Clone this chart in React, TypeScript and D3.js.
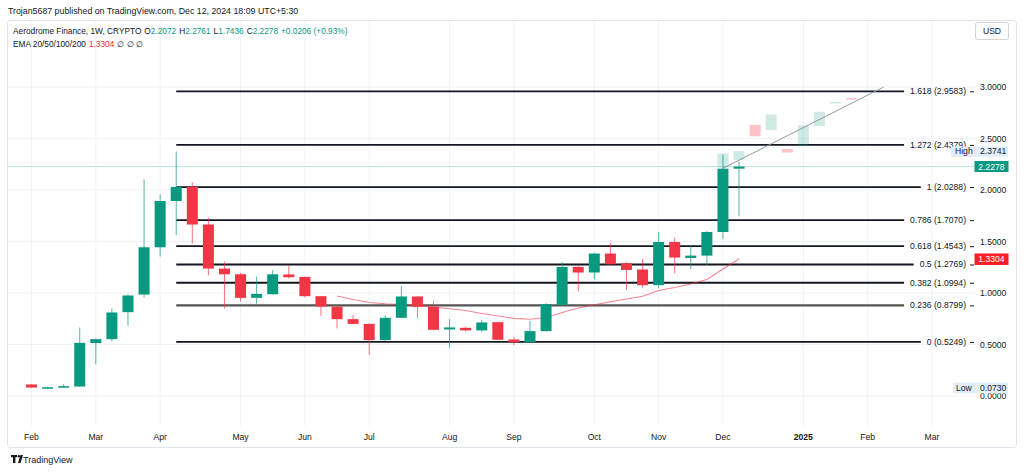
import React from 'react';
import * as d3 from 'd3';

// ---- Data (weekly candles, index 0 = week of Feb 5 2024) ----
const opens = [0.112, 0.080, 0.082, 0.092, 0.514, 0.552, 0.814, 0.985, 1.444, 1.893, 2.030, 1.665, 1.237, 1.182, 0.953, 0.988, 1.180, 1.156, 0.969, 0.868, 0.746, 0.700, 0.543, 0.759, 0.966, 0.866, 0.646, 0.662, 0.637, 0.717, 0.549, 0.523, 0.630, 0.885, 1.253, 1.199, 1.383, 1.289, 1.228, 1.076, 1.495, 1.340, 1.363, 1.592, 2.2072];
const highs = [0.118, 0.090, 0.115, 0.665, 0.560, 0.850, 0.985, 2.103, 1.957, 2.374, 2.075, 1.730, 1.305, 1.195, 1.160, 1.224, 1.266, 1.160, 0.972, 0.870, 0.785, 0.705, 0.785, 1.069, 0.970, 0.924, 0.746, 0.672, 0.740, 0.720, 0.575, 0.730, 0.900, 1.301, 1.266, 1.390, 1.483, 1.300, 1.328, 1.592, 1.537, 1.456, 1.600, 2.340, 2.2761];
const lows = [0.078, 0.073, 0.078, 0.088, 0.305, 0.530, 0.681, 0.956, 1.354, 1.563, 1.480, 1.172, 0.850, 0.918, 0.895, 0.985, 1.140, 0.959, 0.778, 0.656, 0.695, 0.400, 0.535, 0.755, 0.756, 0.638, 0.465, 0.625, 0.620, 0.543, 0.494, 0.518, 0.625, 0.875, 1.014, 1.134, 1.275, 1.027, 1.053, 1.047, 1.189, 1.231, 1.272, 1.521, 1.7436];
const closes = [0.082, 0.085, 0.095, 0.516, 0.552, 0.811, 0.976, 1.444, 1.893, 2.030, 1.665, 1.237, 1.182, 0.953, 0.991, 1.182, 1.153, 0.969, 0.869, 0.746, 0.700, 0.543, 0.759, 0.966, 0.866, 0.643, 0.666, 0.637, 0.714, 0.546, 0.523, 0.630, 0.891, 1.253, 1.199, 1.383, 1.279, 1.224, 1.076, 1.495, 1.344, 1.363, 1.592, 2.207, 2.2278];

const emaStart = 19;
const ema20 = [0.971, 0.937, 0.908, 0.896, 0.888, 0.881, 0.864, 0.847, 0.830, 0.801, 0.777, 0.754, 0.745, 0.762, 0.811, 0.854, 0.885, 0.915, 0.942, 0.969, 1.024, 1.053, 1.087, 1.131, 1.233, 1.3304];

const ghostIdx = [43, 44, 45, 46, 47, 48, 49, 50, 51];
const ghostOpen = [2.216, 2.290, 2.633, 2.581, 2.398, 2.425, 2.619, 2.845, 2.893];
const ghostClose = [2.355, 2.377, 2.522, 2.733, 2.364, 2.629, 2.759, 2.855, 2.885];

const trendIdx = [43, 53];
const trendVal = [2.211, 3.0];

const fibRatios = ['1.618', '1.272', '1', '0.786', '0.618', '0.5', '0.382', '0.236', '0'];
const fibPrices = [2.9583, 2.4379, 2.0288, 1.707, 1.4543, 1.2769, 1.0994, 0.8799, 0.5249];
const fibStartIdx = 9;

const priceTicks = [0, 0.5, 1, 1.5, 2, 2.5, 3];
const monthIdx = [0, 4, 8, 13, 17, 21, 26, 30, 35, 39, 43, 48, 52, 56];
const monthLabels = ['Feb', 'Mar', 'Apr', 'May', 'Jun', 'Jul', 'Aug', 'Sep', 'Oct', 'Nov', 'Dec', '2025', 'Feb', 'Mar'];

const lastPrice = 2.2278;
const rangeHigh = 2.3741;
const rangeLow = 0.073;
const emaLast = 1.3304;

const GREEN = '#089981';
const RED = '#f23645';
const TEXT = '#131722';
const FONT = '"Liberation Sans", Arial, sans-serif';
const FS = 8.6;

function measure(s: string, font: string) {
  const c = document.createElement('canvas').getContext('2d');
  if (!c) return s.length * 4;
  c.font = font;
  return c.measureText(s).width;
}

export default function App() {
  const x = d3.scaleLinear().domain([0, 56]).range([31.5, 932]);
  const y = d3.scaleLinear().domain([0, 3]).range([396, 87]);
  const paneL = 8, paneR = 975, paneT = 21, paneB = 426;
  const bw = 11;

  const emaLine = d3.line<number>().x((_, i) => x(emaStart + i)).y(d => y(d));
  const trendLine = d3.line<number>().x((_, i) => x(trendIdx[i])).y(d => y(d));

  const fibFont = `${FS}px ${FONT}`;
  const n = opens.length - 1;

  return (
    <svg width={1024} height={472} style={{ position: 'absolute', left: 0, top: 0, background: '#fff' }} fontFamily={FONT}>
      <rect x={0} y={0} width={1024} height={472} fill="#fff" />
      <text x={8} y={14} fontSize={8.8} fill={TEXT}>Trojan5687 published on TradingView.com, Dec 12, 2024 18:09 UTC+5:30</text>
      <rect x={7.5} y={20.5} width={1009} height={427} rx={3} fill="#fff" stroke="#e0e3eb" />

      {/* grid */}
      {priceTicks.map(t => (
        <line key={'h' + t} x1={paneL} x2={paneR} y1={y(t)} y2={y(t)} stroke="#f0f3fa" />
      ))}
      {monthIdx.map((m, i) => (
        <line key={'v' + i} x1={x(m)} x2={x(m)} y1={paneT} y2={paneB} stroke="#f0f3fa" />
      ))}

      {/* current price line */}
      <line x1={paneL} x2={paneR} y1={y(lastPrice)} y2={y(lastPrice)} stroke={GREEN} strokeOpacity={0.25} />

      {/* fib levels */}
      {fibPrices.map((p, i) => {
        const label = `${fibRatios[i]} (${p.toFixed(4)})`;
        const w = measure(label, fibFont);
        const tx = 966;
        return (
          <g key={'f' + i}>
            <line x1={x(fibStartIdx)} x2={tx - w - 6} y1={y(p)} y2={y(p)} stroke={fibRatios[i] === '0.236' ? '#555' : '#131722'} strokeWidth={fibRatios[i] === '0.236' ? 2.2 : 1.8} />
            <text x={tx} y={y(p) + 3} fontSize={FS} textAnchor="end" fill={TEXT}>{label}</text>
            <line x1={970} x2={974} y1={y(p) + 0.5} y2={y(p) + 0.5} stroke={TEXT} strokeWidth={1} />
          </g>
        );
      })}

      {/* ghost projection */}
      {ghostIdx.map((gi, i) => {
        const up = ghostClose[i] >= ghostOpen[i];
        const top = y(Math.max(ghostOpen[i], ghostClose[i]));
        const bot = y(Math.min(ghostOpen[i], ghostClose[i]));
        return (
          <rect key={'g' + i} x={x(gi) - bw / 2} y={top} width={bw} height={Math.max(1.5, bot - top)} fill={up ? GREEN : RED} fillOpacity={up ? 0.2 : 0.3} />
        );
      })}
      <path d={trendLine(trendVal) || ''} fill="none" stroke="#9598a1" strokeWidth={1} />

      {/* EMA */}
      <path d={emaLine(ema20) || ''} fill="none" stroke={RED} strokeOpacity={0.6} strokeWidth={1.1} />

      {/* candles */}
      {opens.map((o, i) => {
        const c = closes[i];
        const up = c >= o;
        const col = up ? GREEN : RED;
        const cx = x(i);
        const top = y(Math.max(o, c));
        const bot = y(Math.min(o, c));
        return (
          <g key={'c' + i}>
            <line x1={cx} x2={cx} y1={y(highs[i])} y2={y(lows[i])} stroke={col} strokeOpacity={0.7} strokeWidth={1} />
            <rect x={cx - bw / 2} y={top} width={bw} height={Math.max(1.5, bot - top)} fill={col} />
          </g>
        );
      })}

      {/* header */}
      <text x={13} y={34} fontSize={8.3} fill={TEXT}>
        Aerodrome Finance, 1W, CRYPTO
        <tspan dx={3}>O</tspan><tspan fill={GREEN}>{opens[n].toFixed(4)}</tspan>
        <tspan dx={3}>H</tspan><tspan fill={GREEN}>{highs[n].toFixed(4)}</tspan>
        <tspan dx={3}>L</tspan><tspan fill={GREEN}>{lows[n].toFixed(4)}</tspan>
        <tspan dx={3}>C</tspan><tspan fill={GREEN}>{lastPrice.toFixed(4)}</tspan>
        <tspan dx={3} fill={GREEN}>+0.0206 (+0.93%)</tspan>
      </text>
      <text x={13} y={46.5} fontSize={8.3} fill={TEXT}>
        EMA 20/50/100/200
        <tspan dx={3} fill="#f7282f">{emaLast.toFixed(4)}</tspan>
        <tspan dx={3}>∅  ∅  ∅</tspan>
      </text>

      {/* price axis */}
      {priceTicks.map(t => (
        <text key={'p' + t} x={980} y={y(t) + 3} fontSize={FS} fill={TEXT}>{t.toFixed(4)}</text>
      ))}
      <rect x={975.5} y={22.5} width={33} height={17} rx={2} fill="#fff" stroke="#d1d4dc" />
      <text x={992} y={34} fontSize={FS} textAnchor="middle" fill={TEXT}>USD</text>

      <rect x={951} y={y(rangeHigh) - 5} width={57} height={10.5} fill="#e3eefb" />
      <text x={955} y={y(rangeHigh) + 3} fontSize={FS} fill={TEXT}>High</text>
      <text x={980} y={y(rangeHigh) + 3} fontSize={FS} fill={TEXT}>{rangeHigh.toFixed(4)}</text>

      <rect x={974.5} y={y(lastPrice) - 5.5} width={34} height={11} fill={GREEN} />
      <text x={991.5} y={y(lastPrice) + 3} fontSize={FS} textAnchor="middle" fill="#fff">{lastPrice.toFixed(4)}</text>

      <rect x={974.5} y={y(emaLast) - 5.5} width={34} height={11.5} fill="#ff1f26" />
      <text x={991.5} y={y(emaLast) + 3.2} fontSize={FS} textAnchor="middle" fill="#fff">{emaLast.toFixed(4)}</text>

      <rect x={953} y={y(rangeLow) - 6} width={55} height={11} fill="#e3eefb" />
      <text x={956} y={y(rangeLow) + 2.5} fontSize={FS} fill={TEXT}>Low</text>
      <text x={980} y={y(rangeLow) + 2.5} fontSize={FS} fill={TEXT}>{rangeLow.toFixed(4)}</text>

      {/* time axis */}
      {monthIdx.map((m, i) => (
        <text key={'m' + i} x={x(m)} y={440} fontSize={FS} textAnchor="middle" fill={TEXT} fontWeight={monthLabels[i] === '2025' ? 'bold' : 'normal'}>{monthLabels[i]}</text>
      ))}

      {/* logo */}
      <g fill={TEXT}>
        <rect x={11} y={455} width={6} height={2.2} />
        <rect x={13} y={455} width={2.4} height={8} />
        <circle cx={18.8} cy={456.2} r={1.2} />
        <path d="M20.5,455 L23,455 L20.5,463 L18,463 Z" />
        <text x={23} y={463} fontSize={9}>TradingView</text>
      </g>
    </svg>
  );
}
